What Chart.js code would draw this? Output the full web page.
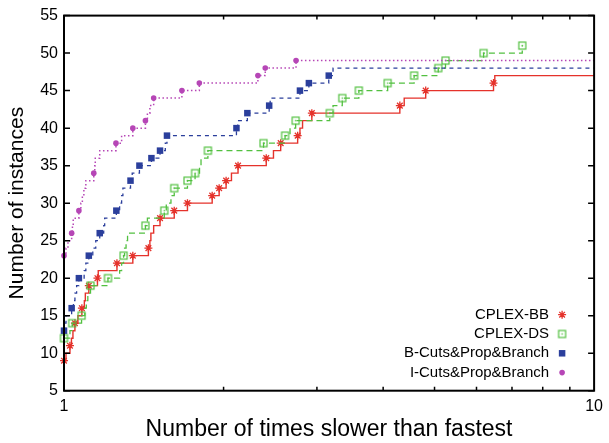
<!DOCTYPE html>
<html>
<head>
<meta charset="utf-8">
<script src="https://cdn.jsdelivr.net/npm/chart.js@4/dist/chart.umd.min.js"></script>
<style>
  html, body { margin: 0; padding: 0; background: #fff; }
</style>
</head>
<body>
<canvas id="chart" width="609" height="443"></canvas>
<script>
// performance profile: number of instances solved within x times the fastest time
const seriesLabels = ['CPLEX-BB', 'CPLEX-DS', 'B-Cuts&Prop&Branch', 'I-Cuts&Prop&Branch'];

// CPLEX-BB
const bbX = [1, 1.0087, 1.0262, 1.0329, 1.0396, 1.0486, 1.0622, 1.0807, 1.0924, 1.0971,
  1.1138, 1.1564, 1.1604, 1.2586, 1.3484, 1.4428, 1.4522, 1.4585, 1.4762, 1.5176,
  1.6142, 1.7096, 1.9034, 1.9619, 2.0221, 2.0697, 2.1297, 2.4072, 2.4840, 2.5631,
  2.7590, 2.7869, 2.8184, 2.9344, 4.3006, 4.3830, 4.8117, 6.4602, 6.4964, 10];
const bbY = [9, 10, 11, 12, 13, 14, 15, 16, 17, 18,
  19, 20, 21, 22, 23, 24, 25, 26, 27, 28,
  29, 30, 31, 32, 33, 34, 35, 36, 37, 38,
  39, 40, 41, 42, 43, 44, 45, 46, 47, 47];
const bbMarked = [9, 11, 14, 16, 19, 20, 22, 23, 24, 28, 29, 30, 31, 32, 33, 35, 36, 38, 39, 42, 43, 45, 46];

// CPLEX-DS
const dsX = [1, 1.0262, 1.0364, 1.0793, 1.0947, 1.1018, 1.1090, 1.1220, 1.2104, 1.2733,
  1.2844, 1.2954, 1.3010, 1.3094, 1.3179, 1.4243, 1.4366, 1.5460, 1.5594, 1.5914,
  1.6142, 1.7096, 1.7671, 1.8016, 1.8133, 1.8684, 2.3793, 2.6123, 2.6693, 2.7351,
  3.1719, 3.2174, 3.3491, 3.5993, 4.0790, 4.5760, 5.0816, 5.2442, 6.1874, 7.3194];
const dsY = [12, 13, 14, 15, 16, 17, 18, 19, 20, 21,
  22, 23, 24, 25, 26, 27, 28, 29, 30, 31,
  32, 33, 34, 35, 36, 37, 38, 39, 40, 41,
  42, 43, 44, 45, 46, 47, 48, 49, 50, 51];
const dsMarked = [12, 14, 15, 19, 20, 23, 27, 29, 32, 33, 34, 37, 38, 39, 41, 42, 44, 45, 46, 47, 48, 49, 50, 51];

// B-Cuts&Prop&Branch
const bcX = [1, 1.0043, 1.0087, 1.0338, 1.0418, 1.0486, 1.0563, 1.0668, 1.0914, 1.0995,
  1.1138, 1.1332, 1.1479, 1.1679, 1.1882, 1.1933, 1.2553, 1.2733, 1.2844, 1.2915,
  1.3350, 1.3448, 1.3877, 1.4619, 1.5176, 1.5527, 1.5641, 2.1150, 2.1269, 2.2177,
  2.4381, 2.4486, 2.7869, 2.8970, 3.1583, 3.2174, 10];
const bcY = [13, 14, 15, 16, 17, 18, 19, 20, 21, 22,
  23, 24, 25, 26, 27, 28, 29, 30, 31, 32,
  33, 34, 35, 36, 37, 38, 39, 40, 41, 42,
  43, 44, 45, 46, 47, 48, 48];
const bcMarked = [13, 16, 20, 23, 26, 29, 33, 35, 36, 37, 39, 40, 42, 43, 45, 46, 47];

// I-Cuts&Prop&Branch
const icX = [1, 1.0087, 1.0174, 1.0338, 1.0373, 1.0409, 1.0668, 1.0761, 1.0830, 1.0901,
  1.0995, 1.1381, 1.1430, 1.1455, 1.1679, 1.2532, 1.2844, 1.3484, 1.4243, 1.4366,
  1.4522, 1.4762, 1.6688, 1.8000, 2.3216, 2.3969, 2.7398, 10];
const icY = [23, 24, 25, 26, 27, 28, 29, 30, 31, 32,
  33, 34, 35, 36, 37, 38, 39, 40, 41, 42,
  43, 44, 45, 46, 47, 48, 49, 49];
const icMarked = [23, 26, 29, 34, 38, 40, 41, 44, 45, 46, 47, 48, 49];

const xTickValues = [1, 10];
const xMinorTicks = [2, 3, 4, 5, 6, 7, 8, 9];
const yTickValues = [5, 10, 15, 20, 25, 30, 35, 40, 45, 50, 55];

Chart.defaults.font.family = '"Liberation Sans", Arial, Helvetica, sans-serif';
Chart.defaults.color = '#000';

function toPoints(xs, ys) {
    return xs.map((x, i) => ({ x: x, y: ys[i] }));
}

// open box with a dot in the middle, like gnuplot's
function boxDot(color) {
    const c = document.createElement('canvas');
    c.width = 11;
    c.height = 11;
    const g = c.getContext('2d');
    g.strokeStyle = color;
    g.lineWidth = 1.2;
    g.strokeRect(2, 2, 7, 7);
    g.fillStyle = color;
    g.fillRect(4.8, 4.8, 1.4, 1.4);
    return c;
}

function radiusFor(marked, r) {
    return ctx => {
        const p = ctx.raw;
        return p && p.x < 10 && marked.includes(p.y) ? r : 0;
    };
}

const RED = '#e5322b';
const GREEN = '#52c040';
const BLUE = '#2b3f9c';
const MAGENTA = '#b646b6';
const dsBox = boxDot(GREEN);

const datasets = [
    {
        label: seriesLabels[0],
        data: toPoints(bbX, bbY),
        borderColor: RED,
        borderWidth: 1.4,
        pointStyle: 'star',
        pointRadius: radiusFor(bbMarked, 4),
        pointBorderColor: RED,
        pointBorderWidth: 1.3,
        pointBackgroundColor: RED,
        order: 4,
    },
    {
        label: seriesLabels[1],
        data: toPoints(dsX, dsY),
        borderColor: GREEN,
        borderWidth: 1.3,
        borderDash: [6, 4],
        pointStyle: dsBox,
        pointRadius: radiusFor(dsMarked, 4),
        order: 3,
    },
    {
        label: seriesLabels[2],
        data: toPoints(bcX, bcY),
        borderColor: BLUE,
        borderWidth: 1.3,
        borderDash: [4, 4],
        pointStyle: 'rect',
        pointRadius: radiusFor(bcMarked, 4.6),
        pointBorderWidth: 0,
        pointBackgroundColor: BLUE,
        order: 2,
    },
    {
        label: seriesLabels[3],
        data: toPoints(icX, icY),
        borderColor: MAGENTA,
        borderWidth: 1.5,
        borderDash: [1.5, 2.5],
        pointStyle: 'circle',
        pointRadius: radiusFor(icMarked, 2.8),
        pointBorderWidth: 0,
        pointBackgroundColor: MAGENTA,
        order: 1,
    },
];

const legendStyles = [
    { pointStyle: 'star', radius: 4, borderWidth: 1.3, color: RED },
    { pointStyle: dsBox, radius: 4, borderWidth: 0, color: GREEN },
    { pointStyle: 'rect', radius: 4.6, borderWidth: 0, color: BLUE },
    { pointStyle: 'circle', radius: 2.8, borderWidth: 0, color: MAGENTA },
];

// frame, inward ticks on all four sides, and the key in the lower right
const framePlugin = {
    id: 'frame',
    afterDraw(chart) {
        const { ctx, chartArea: a, scales: { x, y } } = chart;
        ctx.save();
        ctx.strokeStyle = '#000';
        ctx.lineWidth = 1.5;
        ctx.beginPath();
        yTickValues.forEach(v => {
            const py = y.getPixelForValue(v);
            ctx.moveTo(a.left, py);
            ctx.lineTo(a.left + 6, py);
            ctx.moveTo(a.right, py);
            ctx.lineTo(a.right - 6, py);
        });
        xMinorTicks.forEach(v => {
            const px = x.getPixelForValue(v);
            ctx.moveTo(px, a.bottom);
            ctx.lineTo(px, a.bottom - 4);
            ctx.moveTo(px, a.top);
            ctx.lineTo(px, a.top + 4);
        });
        ctx.stroke();
        ctx.lineWidth = 2;
        ctx.strokeRect(a.left, a.top, a.right - a.left, a.bottom - a.top);

        ctx.font = '15px "Liberation Sans", Arial, Helvetica, sans-serif';
        ctx.textAlign = 'right';
        ctx.textBaseline = 'middle';
        seriesLabels.forEach((label, i) => {
            const ly = a.bottom - 76 + i * 19.3;
            ctx.fillStyle = '#000';
            ctx.fillText(label, a.right - 45, ly);
            const st = legendStyles[i];
            ctx.fillStyle = st.color;
            ctx.strokeStyle = st.color;
            ctx.lineWidth = st.borderWidth;
            Chart.helpers.drawPoint(ctx, {
                pointStyle: st.pointStyle,
                radius: st.radius,
                borderWidth: st.borderWidth,
                rotation: 0,
            }, a.right - 32, ly);
        });
        ctx.restore();
    }
};

new Chart(document.getElementById('chart'), {
    type: 'line',
    data: { datasets: datasets },
    options: {
        responsive: false,
        animation: false,
        events: [],
        clip: false,
        layout: { padding: { top: 15.5, right: 11, left: 0, bottom: 0 } },
        elements: {
            line: { stepped: true, tension: 0, fill: false },
        },
        plugins: {
            legend: { display: false },
            tooltip: { enabled: false },
        },
        scales: {
            x: {
                type: 'logarithmic',
                min: 1,
                max: 10,
                afterBuildTicks: s => { s.ticks = xTickValues.map(v => ({ value: v })); },
                afterFit: s => { s.height = 52.3; },
                grid: { display: false, drawTicks: false },
                border: { display: false },
                ticks: {
                    padding: 6,
                    font: { size: 16 },
                    maxRotation: 0,
                    autoSkip: false,
                    callback: v => String(v),
                },
                title: {
                    display: true,
                    text: 'Number of times slower than fastest',
                    font: { size: 23 },
                    padding: 0,
                },
            },
            y: {
                min: 5,
                max: 55,
                afterBuildTicks: s => { s.ticks = yTickValues.map(v => ({ value: v })); },
                afterFit: s => { s.width = 64; },
                grid: { display: false, drawTicks: false },
                border: { display: false },
                ticks: {
                    padding: 6,
                    font: { size: 16 },
                },
                title: {
                    display: true,
                    text: 'Number of instances',
                    font: { size: 21 },
                    padding: { top: 5, bottom: 0 },
                },
            },
        },
    },
    plugins: [framePlugin],
});
</script>
</body>
</html>
